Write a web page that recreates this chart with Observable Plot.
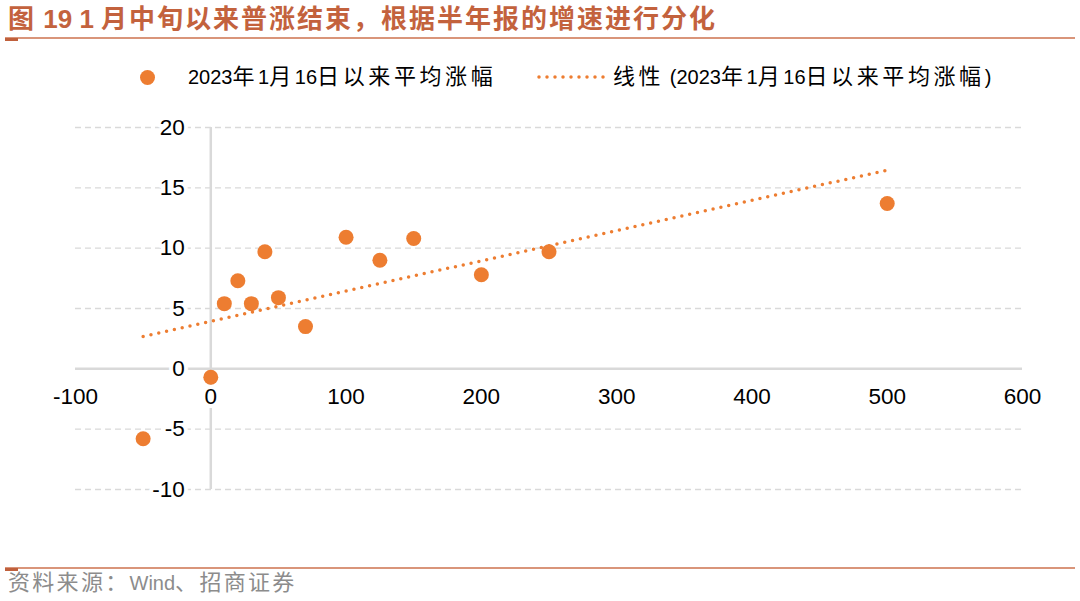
<!DOCTYPE html>
<html><head><meta charset="utf-8">
<script src="https://cdn.jsdelivr.net/npm/d3@7"></script>
<script src="https://cdn.jsdelivr.net/npm/@observablehq/plot@0.6"></script>
<style>
body{margin:0;background:#fff;}
#wrap{position:relative;width:1080px;height:601px;overflow:hidden;font-family:"Liberation Sans",Arial,"Noto Sans CJK SC",sans-serif;}
#title{position:absolute;left:8px;top:3px;font-size:26px;line-height:32px;font-weight:bold;color:#C3623D;white-space:nowrap;}
#title .c{letter-spacing:2px;}
.hr{position:absolute;left:5px;width:1070px;height:2px;background:#D9957A;}
.hrk{position:absolute;left:5px;width:13px;height:3px;background:#C0603C;}
.leg{position:absolute;top:65px;font-size:20px;line-height:24px;white-space:nowrap;color:#000;}
.leg .c{font-size:22px;letter-spacing:3.6px;}
#ldot{position:absolute;left:139.5px;top:69.5px;width:15px;height:15px;border-radius:50%;background:#ED7D31;}
#lline{position:absolute;left:535px;top:73px;}
#chart{position:absolute;left:0;top:100px;}
#src{position:absolute;left:8px;top:571px;font-size:20px;line-height:24px;color:#8C8C8C;white-space:nowrap;}
#src .c{font-size:22px;letter-spacing:2.3px;}
</style></head>
<body><div id="wrap">
<div id="title"><span class="c">图</span> 19 1 <span class="c">月中旬以来普涨结束，根据半年报的增速进行分化</span></div>
<div class="hr" style="top:37px"></div><div class="hrk" style="top:38px"></div>
<div id="ldot"></div>
<div class="leg" style="left:188px">2023<span class="c">年</span>1<span class="c">月</span>16<span class="c">日以来平均涨幅</span></div>
<svg id="lline" width="74" height="8"><line x1="4" y1="4" x2="70" y2="4" stroke="#ED7D31" stroke-width="3.5" stroke-dasharray="0,8" stroke-linecap="round"/></svg>
<div class="leg" style="left:613px"><span class="c">线性</span> (2023<span class="c">年</span>1<span class="c">月</span>16<span class="c">日以来平均涨幅</span>)</div>
<div id="chart"></div>
<div class="hr" style="top:567px"></div><div class="hrk" style="top:568px"></div>
<div id="src"><span class="c">资料来源：</span>Wind<span class="c">、招商证券</span></div>
</div>
<script>
const xs = [-50, 0, 10, 20, 30, 40, 50, 70, 100, 125, 150, 200, 250, 500];
const ys = [-5.8, -0.7, 5.4, 7.3, 5.4, 9.7, 5.9, 3.5, 10.9, 9.0, 10.8, 7.8, 9.7, 13.7];
const xTicks = [-100, 0, 100, 200, 300, 400, 500, 600];
const yTicks = [-10, -5, 0, 5, 10, 15, 20];
const data = xs.map((x, i) => ({x, y: ys[i]}));
const orange = "#ED7D31";
const chart = Plot.plot({
  width: 1080, height: 440,
  marginTop: 27, marginBottom: 51, marginLeft: 75, marginRight: 58,
  x: {domain: [-100, 600], axis: null},
  y: {domain: [-10, 20], axis: null},
  style: {fontFamily: '"Liberation Sans", Arial, sans-serif', background: "white"},
  marks: [
    Plot.ruleY(yTicks.filter(d => d !== 0), {stroke: "#D9D9D9", strokeWidth: 1.3, strokeDasharray: "6,4"}),
    Plot.ruleY([0], {stroke: "#D9D9D9", strokeWidth: 2.5}),
    Plot.ruleX([0], {stroke: "#D9D9D9", strokeWidth: 2.5}),
    Plot.text(xTicks, {x: d => d, y: 0, dy: 28, text: d => String(d), fontSize: 22.5, fill: "#000", stroke: "white", strokeWidth: 8, lineAnchor: "middle"}),
    Plot.text(yTicks, {x: 0, y: d => d, dx: -26, textAnchor: "end", text: d => String(d), fontSize: 22.5, fill: "#000", stroke: "white", strokeWidth: 8, lineAnchor: "middle"}),
    Plot.linearRegressionY(data, {x: "x", y: "y", ci: 0, stroke: orange, strokeWidth: 3.5, strokeDasharray: "0,8", strokeLinecap: "round"}),
    Plot.dot(data, {x: "x", y: "y", r: 7.5, fill: orange, stroke: "none"})
  ]
});
document.getElementById("chart").appendChild(chart);
</script>
</body></html>
